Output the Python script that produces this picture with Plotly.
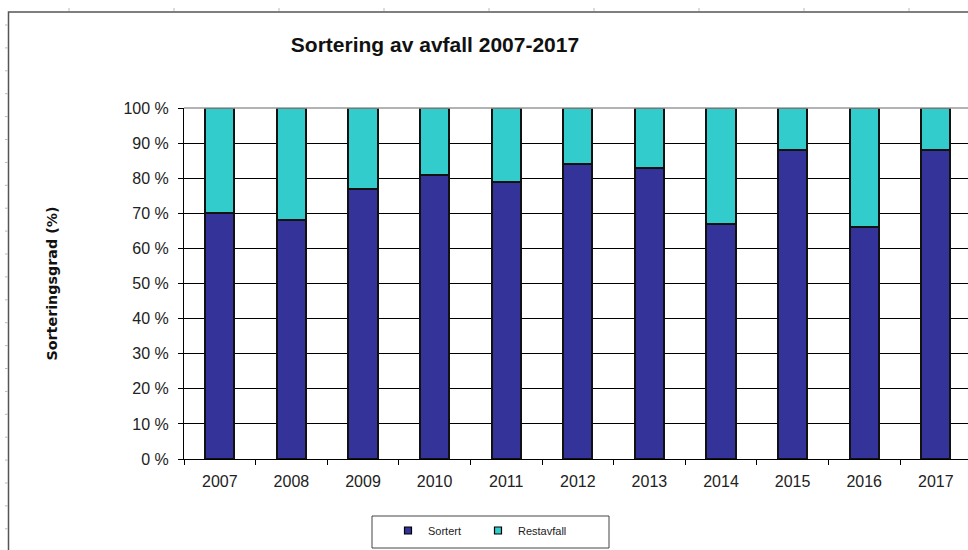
import plotly.graph_objects as go

# Sorting rate per year (percent of total waste)
years = ["2007", "2008", "2009", "2010", "2011", "2012", "2013", "2014", "2015", "2016", "2017"]
sortert = [70, 68, 77, 81, 79, 84, 83, 67, 88, 66, 88]
restavfall = [30, 32, 23, 19, 21, 16, 17, 33, 12, 34, 12]

series_names = ["Sortert", "Restavfall"]
series_colors = ["#333399", "#33CCCC"]

W, H = 968, 550
L, R, T, B = 184, 0, 108, 91
pw, ph = W - L - R, H - T - B
cat_px = 71.6


def px_x(x):
    return (x - L) / pw


def px_y(y):
    return (H - B - y) / ph


FONT = "Liberation Sans, Arial, sans-serif"

fig = go.Figure()
for name, vals, col in zip(series_names, [sortert, restavfall], series_colors):
    fig.add_trace(go.Bar(
        x=years, y=vals, name=name, showlegend=False,
        marker=dict(color=col, line=dict(color="#111111", width=2)),
    ))
# small square legend keys
for name, col in zip(series_names, series_colors):
    fig.add_trace(go.Scatter(
        x=[None], y=[None], mode="markers", name=name,
        marker=dict(symbol="square", size=7, color=col,
                    line=dict(color="#000000", width=1.2)),
    ))

shapes = []
# outer chart frame
shapes.append(dict(type="rect", xref="paper", yref="paper",
                   x0=px_x(8.5), x1=px_x(990), y0=px_y(12), y1=px_y(570),
                   line=dict(color="#555555", width=1.5)))
# top border of the plot area
shapes.append(dict(type="line", xref="paper", yref="paper",
                   x0=0, x1=1, y0=1, y1=1, layer="above",
                   line=dict(color="#9a9a9a", width=1.5)))
# legend frame
shapes.append(dict(type="rect", xref="paper", yref="paper",
                   x0=px_x(372), x1=px_x(609), y0=px_y(516), y1=px_y(548),
                   line=dict(color="#444444", width=1)))
# ruler ticks along the top and left edges
for k in range(9):
    x = 69 + 105 * k
    shapes.append(dict(type="line", xref="paper", yref="paper",
                       x0=px_x(x), x1=px_x(x), y0=px_y(8), y1=px_y(11),
                       line=dict(color="#bbbbbb", width=1)))
for k in range(23):
    y = 25 + 22.9 * k
    shapes.append(dict(type="line", xref="paper", yref="paper",
                       x0=px_x(5), x1=px_x(8), y0=px_y(y), y1=px_y(y),
                       line=dict(color="#bbbbbb", width=1)))

fig.update_layout(
    width=W, height=H,
    margin=dict(l=L, r=R, t=T, b=B, autoexpand=False),
    paper_bgcolor="white", plot_bgcolor="white",
    barmode="stack", bargap=0.59,
    font=dict(family=FONT, color="#222222"),
    title=dict(text="Sortering av avfall 2007-2017", xref="container", yref="container",
               x=435 / W, y=1 - 45 / H, xanchor="center", yanchor="middle",
               font=dict(family=FONT, size=21, color="#111111", weight="bold")),
    xaxis=dict(type="category", range=[-0.5, -0.5 + pw / cat_px],
               showgrid=False, showline=True, linecolor="#000000", linewidth=1,
               ticks="outside", tickson="boundaries", ticklen=5, tickcolor="#000000",
               tickfont=dict(family=FONT, size=16, color="#222222"),
               ticklabelstandoff=8),
    yaxis=dict(range=[0, 100], dtick=10, ticksuffix=" %",
               showgrid=True, gridcolor="#000000", gridwidth=1,
               showline=True, linecolor="#000000", linewidth=1,
               ticks="outside", ticklen=5, tickcolor="#000000",
               tickfont=dict(family=FONT, size=16, color="#222222"),
               ticklabelstandoff=6, zeroline=False,
               title=dict(text="Sorteringsgrad (%)", standoff=62,
                          font=dict(family="DejaVu Sans", size=14.3, color="#111111",
                                    weight="bold"))),
    legend=dict(orientation="h", traceorder="normal",
                x=px_x(388), y=px_y(516), xanchor="left", yanchor="top",
                bgcolor="rgba(0,0,0,0)", borderwidth=0,
                font=dict(family=FONT, size=11, color="#222222"),
                entrywidth=45, entrywidthmode="pixels", itemwidth=30),
    shapes=shapes,
)

fig.write_html("out.html")
